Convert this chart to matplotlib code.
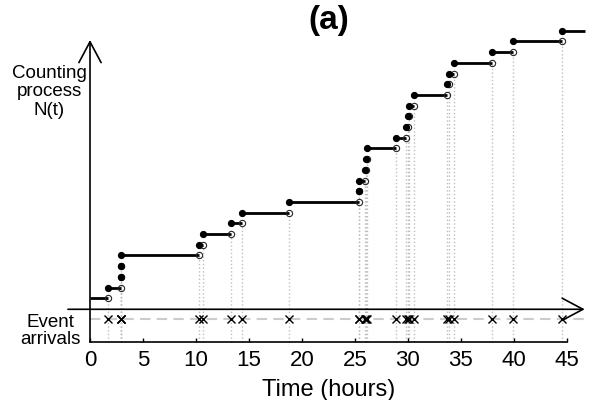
import numpy as np
import matplotlib
matplotlib.use('Agg')
from matplotlib import pyplot as plt

plt.rcParams['font.family'] = ['Liberation Sans', 'DejaVu Sans']

# event arrival times (hours)
event_times = [1.73, 2.88, 2.92, 2.96, 10.3, 10.7, 13.28, 14.39, 18.82,
               25.35, 25.42, 25.97, 26.05, 26.15, 28.86, 29.8, 30.0, 30.1,
               30.55, 33.68, 33.9, 34.4, 37.93, 39.9, 44.6]
t_end = 46.7
xticks = [0, 5, 10, 15, 20, 25, 30, 35, 40, 45]

t = np.array(event_times)
n = np.arange(1, len(t) + 1)

fig = plt.figure(figsize=(6, 4), dpi=100)
ax = fig.add_axes([0.15, 0.14575, 0.7945, 0.75425])
ax.set_xlim(0, 45)
ax.set_ylim(-4.06, 24.14)

# axis rows
y_axis = -1.03
y_events = -1.96

# dotted guides from open circles down to the time axis
ax.vlines(t, -4.06, n - 1, colors='0.75', linestyles=':', linewidth=1.0, clip_on=False, zorder=1)

# counting process steps
starts = np.concatenate(([0.0], t))
ends = np.concatenate((t, [t_end]))
levels = np.arange(0, len(t) + 1)
ax.hlines(levels, starts, ends, colors='k', linewidth=2.0, clip_on=False, zorder=3)
ax.plot(t, n - 1, 'o', mfc='none', mec='0.15', ms=4.5, mew=0.8, clip_on=False, zorder=4)
ax.plot(t, n, 'o', color='k', ms=4.2, clip_on=False, zorder=5)

# event arrivals row
ax.plot([0, t_end], [y_events, y_events], color='0.8', linestyle=(0, (5, 3)), linewidth=1.5, clip_on=False, zorder=1)
ax.plot(t, np.full(len(t), y_events), 'x', color='k', ms=6, mew=1.0, clip_on=False, zorder=4)

# arrows
head = '->,head_length=1.5,head_width=0.8'
ax.annotate('', xy=(t_end, y_axis), xytext=(-2.08, y_axis),
            arrowprops=dict(arrowstyle=head, lw=1.2, color='k', shrinkA=0, shrinkB=0),
            annotation_clip=False)
ax.annotate('', xy=(0, 24.14), xytext=(0, -4.06),
            arrowprops=dict(arrowstyle=head, lw=1.2, color='k', shrinkA=0, shrinkB=0),
            annotation_clip=False)

for s in ['top', 'right', 'left']:
    ax.spines[s].set_visible(False)
ax.spines['bottom'].set_linewidth(1.2)
ax.set_yticks([])
ax.set_xticks(xticks)
ax.tick_params(axis='x', direction='in', length=3, width=1, pad=6, labelsize=16)
ax.set_xlabel('Time (hours)', fontsize=17, labelpad=6)

fig.text(49 / 600, 1 - 92 / 400, 'Counting\nprocess\nN(t)', ha='center', va='center',
         fontsize=13.5, linespacing=1.15)
fig.text(50 / 600, 1 - 331 / 400, 'Event\narrivals', ha='center', va='center',
         fontsize=13.5, linespacing=1.05)
fig.text(329 / 600, 1 - 20 / 400, '(a)', ha='center', va='center', fontsize=24, fontweight='bold')

fig.savefig('out.png', dpi=100)
